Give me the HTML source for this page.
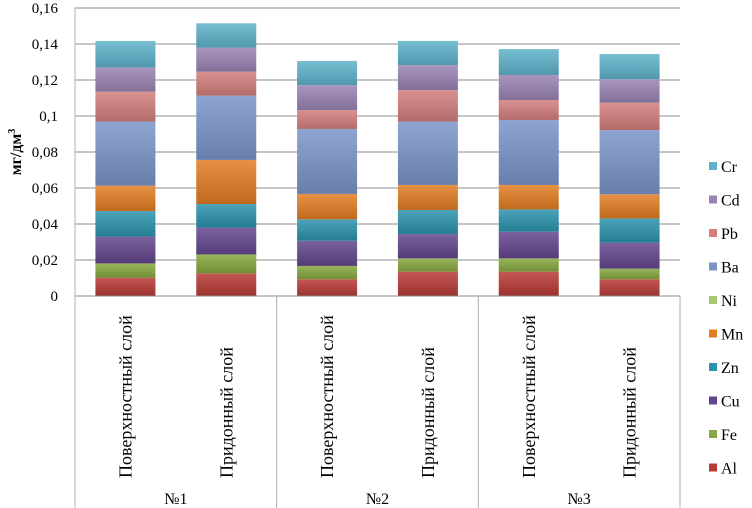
<!DOCTYPE html>
<html><head><meta charset="utf-8"><style>
body{margin:0;background:#fff;}
svg{display:block;font-family:"Liberation Serif",serif;}
</style></head><body>
<svg id="chart" width="752" height="508" viewBox="0 0 752 508" xmlns="http://www.w3.org/2000/svg">
<defs id="defs"></defs>
<g id="grid"></g><g id="bars"></g><g id="axes"></g><g id="legend"></g>
<text transform="translate(21,152) rotate(-90)" text-anchor="middle" font-size="16" font-weight="bold">мг/дм<tspan font-size="10" dy="-6">3</tspan></text>
</svg>
<script>
const series = ["Al","Fe","Cu","Zn","Mn","Ni","Ba","Pb","Cd","Cr"];
const colors = ["#b83a36","#86a83e","#64468e","#2b93ad","#e27d22","#a9c96e","#7995c8","#d27f7c","#9a84b4","#5fb2cb"];
const barLabels = ["Поверхностный слой","Придонный слой","Поверхностный слой","Придонный слой","Поверхностный слой","Придонный слой"];
const groups = ["№1","№2","№3"];
const yTicks = [0,0.02,0.04,0.06,0.08,0.1,0.12,0.14,0.16];
const yTickLabels = ["0","0,02","0,04","0,06","0,08","0,1","0,12","0,14","0,16"];
const Al = [0.0102,0.0126,0.0093,0.0135,0.0135,0.0093];
const Fe = [0.0079,0.0105,0.0074,0.0074,0.0074,0.0059];
const Cu = [0.0149,0.0149,0.0140,0.0135,0.0148,0.0144];
const Zn = [0.0142,0.0131,0.0119,0.0134,0.0124,0.0135];
const Mn = [0.0141,0.0245,0.0141,0.0139,0.0136,0.0134];
const Ni = [0,0,0,0,0,0];
const Ba = [0.0356,0.0357,0.0361,0.0352,0.0361,0.0357];
const Pb = [0.0166,0.0133,0.0105,0.0175,0.0111,0.0152];
const Cd = [0.0135,0.0134,0.0139,0.0139,0.0139,0.0130];
const Cr = [0.0147,0.0135,0.0134,0.0134,0.0144,0.0140];
const values = [Al,Fe,Cu,Zn,Mn,Ni,Ba,Pb,Cd,Cr];

const NS="http://www.w3.org/2000/svg";
const L=75,R=680,T=8,B=296,yMax=0.16;
const y=v=>B-(v/yMax)*(B-T);
const slot=(R-L)/barLabels.length;
const xc=i=>L+slot*(i+0.5);
const bw=60;
function mk(tag,attrs,parent){const e=document.createElementNS(NS,tag);for(const k in attrs)e.setAttribute(k,attrs[k]);parent.appendChild(e);return e;}
function shade(hex,f){const n=parseInt(hex.slice(1),16);let r=n>>16,g=(n>>8)&255,b=n&255;const m=c=>Math.max(0,Math.min(255,Math.round(f>0?c+(255-c)*f:c*(1+f))));return "rgb("+m(r)+","+m(g)+","+m(b)+")";}
const defs=document.getElementById('defs');
colors.forEach((c,k)=>{const g=mk('linearGradient',{id:'g'+k,x1:0,y1:0,x2:0,y2:1},defs);mk('stop',{offset:0,'stop-color':shade(c,0.15)},g);mk('stop',{offset:1,'stop-color':shade(c,-0.15)},g);});
const grid=document.getElementById('grid');
yTicks.forEach((t,i)=>{
 if(i>0){const ln=mk('line',{x1:L,x2:R,y1:y(t),y2:y(t),stroke:'#8c8c8c','stroke-width':1},grid);
 
 }
 const tx=mk('text',{x:58,y:y(t)+5,'text-anchor':'end','font-size':15},grid);tx.textContent=yTickLabels[i];
 
 
});
const bars=document.getElementById('bars');
barLabels.forEach((lab,i)=>{
 let acc=0;
 values.forEach((arr,k)=>{
  const v=arr[i]; if(v<=0){return;}
  const r=mk('rect',{x:xc(i)-bw/2,y:y(acc+v),width:bw,height:y(acc)-y(acc+v),fill:'url(#g'+k+')'},bars);
  
  
  acc+=v;
 });
 const t=mk('text',{transform:'translate('+(xc(i)+6)+',478) rotate(-90)','font-size':18},bars);t.textContent=lab;
 
 
});
const axes=document.getElementById('axes');
mk('line',{x1:L,x2:R,y1:B,y2:B,stroke:'#8c8c8c'},axes);
for(let g=0;g<=groups.length;g++){
 const x=L+g*slot*2;
 const ln=mk('line',{x1:x,x2:x,y1:g==0?T:B,y2:508,stroke:'#b0b0b0'},axes);
 
 
 if(g<groups.length){const t=mk('text',{x:x+slot,y:504,'text-anchor':'middle','font-size':16},axes);t.textContent=groups[g];
 
 }
}
const legend=document.getElementById('legend');
for(let k=series.length-1,j=0;k>=0;k--,j++){
 const yy=167+j*33.5;
 const g=mk('g',{},legend);
 
 
 mk('rect',{x:709,y:yy-5,width:8,height:8,fill:colors[k]},g);
 const t=mk('text',{x:721,y:yy+5,'font-size':16},g);t.textContent=series[k];
}
</script>
</body></html>
